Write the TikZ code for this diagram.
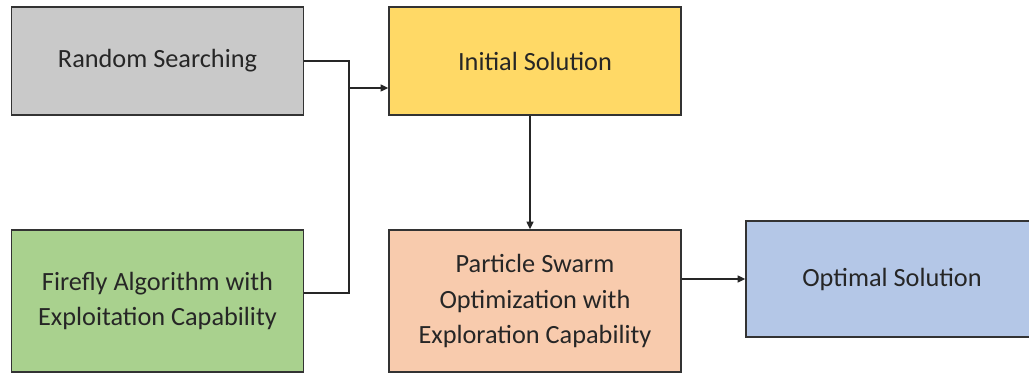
\documentclass[tikz,border=0pt]{standalone}
\usepackage{fontspec}
\setmainfont{Carlito}
\usetikzlibrary{arrows.meta}
\definecolor{randgray}{HTML}{C9C9C9}
\definecolor{initgold}{HTML}{FFD966}
\definecolor{firegreen}{HTML}{A9D18E}
\definecolor{psopeach}{HTML}{F8CBAD}
\definecolor{optblue}{HTML}{B4C7E7}
\begin{document}
\begin{tikzpicture}[x=0.025cm, y=-0.025cm,
	font=\fontsize{18.7}{25.5}\selectfont,
	box/.style={rectangle, draw=black!80, line width=1pt, align=center,
		text=black!85, inner sep=0pt, minimum width=7.3cm},
	wire/.style={draw=black!85, line width=1pt},
	flow/.style={wire, -{Triangle[length=5.5pt,width=5pt]}}]
	\useasboundingbox (0,0) rectangle (1029,373);
	\clip (0,0) rectangle (1029,373);
	% left column: the two sources
	\node (rand) at (157.5,61) [box, fill=randgray, minimum height=2.7cm] {Random Searching};
	\node (fire) at (157.5,301) [box, fill=firegreen, minimum height=3.55cm] {Firefly Algorithm with\\Exploitation Capability};
	% middle and right
	\node (init) at (535,61) [box, fill=initgold, minimum height=2.7cm] {Initial Solution};
	\node (pso) at (535,301) [box, fill=psopeach, minimum height=3.55cm] {Particle Swarm\\Optimization with\\Exploration Capability};
	\node (opt) at (892,279) [box, fill=optblue, minimum height=2.9cm] {Optimal Solution};
	% merging lines
	\coordinate (join) at (349,88);
	\draw[wire] (rand.east) -| (join);
	\draw[wire] ([yshift=0.2cm]fire.east) -| (join);
	\draw[flow] (join) -- (join -| init.west);
	\draw[flow] ([xshift=-0.125cm]init.south) -- ([xshift=-0.125cm]pso.north);
	\draw[flow] (pso.east |- opt.west) -- (opt.west);
\end{tikzpicture}
\end{document}
